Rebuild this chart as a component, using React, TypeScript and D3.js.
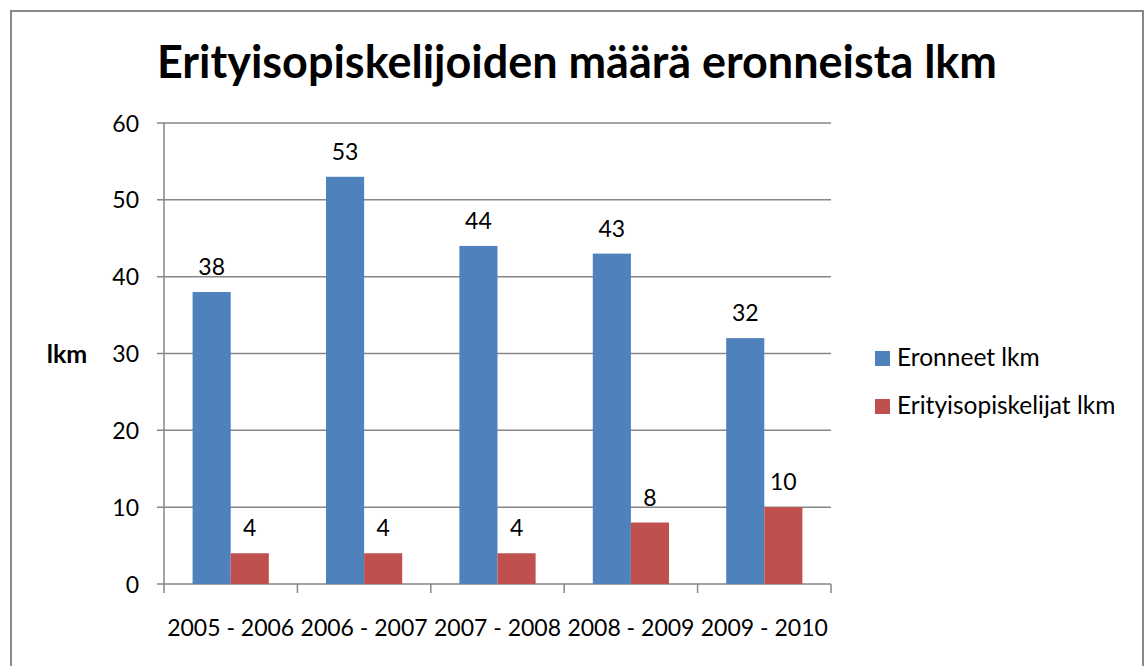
import React from "react";
import * as d3 from "d3";

const categories = ["2005 - 2006", "2006 - 2007", "2007 - 2008", "2008 - 2009", "2009 - 2010"];
const seriesNames = ["Eronneet lkm", "Erityisopiskelijat lkm"];
const eronneet = [38, 53, 44, 43, 32];
const erityis = [4, 4, 4, 8, 10];
const yTicks = [0, 10, 20, 30, 40, 50, 60];
const colors = ["#4F81BD", "#C0504D"];

const W = 1144, H = 666;
const left = 164, right = 831, top = 123, bottom = 584;
const FONT = "Lato, 'Open Sans', sans-serif";

export default function App() {
  const x = d3.scaleBand<string>().domain(categories).range([left, right]).paddingInner(0).paddingOuter(0);
  const y = d3.scaleLinear().domain([0, 60]).range([bottom, top]);
  const inner = d3.scaleBand<string>().domain(seriesNames).range([0, x.bandwidth()]).paddingInner(0).paddingOuter(0.75);
  const series = [eronneet, erityis];
  const grid = "#868686";
  const edges = [...categories.map((c) => x(c)!), right];
  return (
    <div style={{ position: "absolute", left: 0, top: 0 }}>
      <svg width={W} height={H} style={{ display: "block" }}>
        <rect x={0} y={0} width={W} height={H} fill="#fff" />
        <rect x={11} y={11} width={1132} height={680} fill="none" stroke="#888" strokeWidth={2} />
        <text x={577} y={78} textAnchor="middle" fontFamily={FONT} fontWeight="bold" fontSize={45} textLength={840} lengthAdjust="spacingAndGlyphs" fill="#000">
          Erityisopiskelijoiden määrä eronneista lkm
        </text>
        {yTicks.map((t) => (
          <g key={t}>
            <line x1={157} x2={right} y1={y(t)} y2={y(t)} stroke={grid} strokeWidth={1.5} />
            <text x={139} y={y(t) + 8.5} textAnchor="end" fontFamily={FONT} fontSize={23} fill="#000">{t}</text>
          </g>
        ))}
        <line x1={left} x2={left} y1={top} y2={bottom} stroke={grid} strokeWidth={1.5} />
        {edges.map((e, i) => (
          <line key={i} x1={e} x2={e} y1={bottom} y2={bottom + 9} stroke={grid} strokeWidth={1.5} />
        ))}
        {categories.map((c, ci) => (
          <g key={c}>
            {series.map((s, si) => {
              const bx = x(c)! + inner(seriesNames[si])!;
              const bw = inner.bandwidth();
              return (
                <g key={si}>
                  <rect x={bx} y={y(s[ci])} width={bw} height={bottom - y(s[ci])} fill={colors[si]} />
                  <text x={bx + bw / 2} y={y(s[ci]) - 17} textAnchor="middle" fontFamily={FONT} fontSize={23} fill="#000">{s[ci]}</text>
                </g>
              );
            })}
            <text x={x(c)! + x.bandwidth() / 2} y={636} textAnchor="middle" fontFamily={FONT} fontSize={23} fill="#000">{c}</text>
          </g>
        ))}
        <text x={67} y={363} textAnchor="middle" fontFamily={FONT} fontWeight="bold" fontSize={25} fill="#000">lkm</text>
        {seriesNames.map((n, i) => (
          <g key={n}>
            <rect x={875} y={351 + i * 48} width={15} height={15} fill={colors[i]} />
            <text x={897} y={366 + i * 48} fontFamily={FONT} fontSize={24.5} fill="#000">{n}</text>
          </g>
        ))}
      </svg>
    </div>
  );
}
